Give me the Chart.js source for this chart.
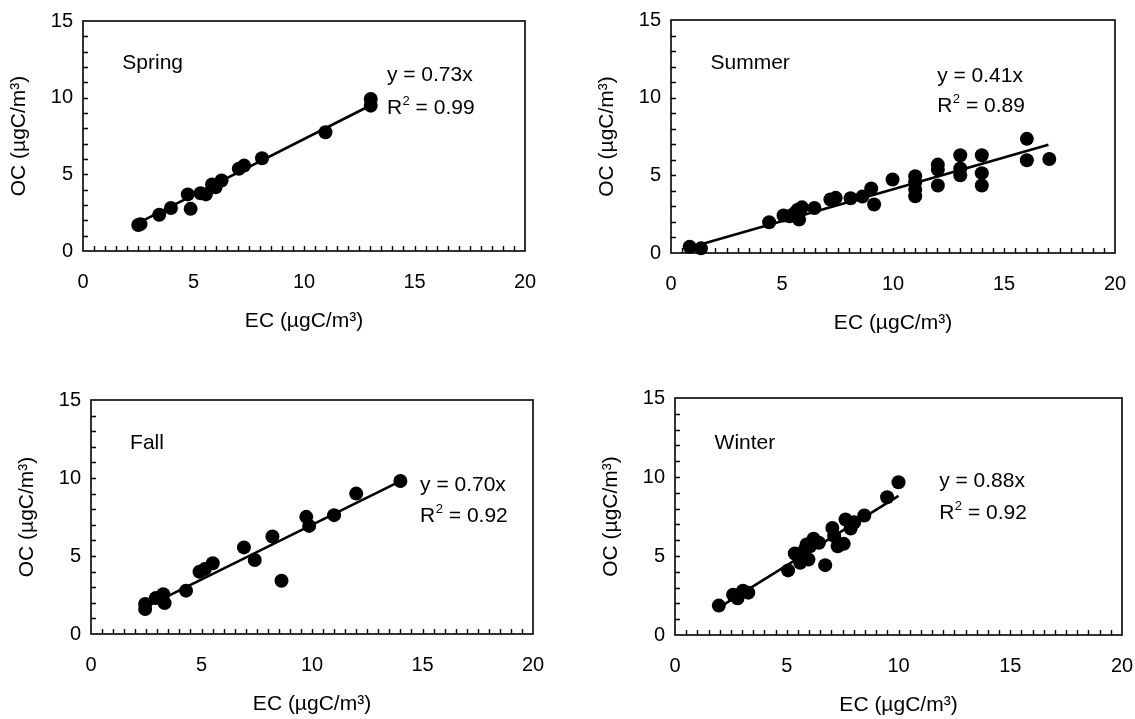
<!DOCTYPE html>
<html><head><meta charset="utf-8">
<script src="https://cdn.jsdelivr.net/npm/chart.js@4.4.1/dist/chart.umd.min.js"></script>
<style>
html,body{margin:0;padding:0;background:#fff;}
body{width:1135px;height:719px;position:relative;overflow:hidden;}
canvas{position:absolute;}
</style>
</head><body>
<canvas id="c0"></canvas><canvas id="c1"></canvas><canvas id="c2"></canvas><canvas id="c3"></canvas>
<script>
// ---------- data ----------
const seasonNames = ['Spring', 'Summer', 'Fall', 'Winter'];
const eqTexts = ['y = 0.73x', 'y = 0.41x', 'y = 0.70x', 'y = 0.88x'];
const r2Texts = ['0.99', '0.89', '0.92', '0.92'];
const xTickLabels = [0, 5, 10, 15, 20];
const yTickLabels = [0, 5, 10, 15];
const xTitle = 'EC (µgC/m³)';
const yTitle = 'OC (µgC/m³)';

const springEC = [2.5, 2.6, 3.45, 3.98, 4.74, 4.87, 5.32, 5.56, 5.84, 6.0, 6.27, 7.05, 7.29, 8.1, 10.97, 13.02, 13.02];
const springOC = [1.7, 1.75, 2.36, 2.8, 3.69, 2.75, 3.77, 3.69, 4.34, 4.16, 4.6, 5.36, 5.57, 6.05, 7.74, 9.91, 9.48];
const springFitEC = [2.6, 13.0];
const springFitOC = [1.9, 9.49];

const summerEC = [0.84, 1.35, 4.42, 5.07, 5.34, 5.5, 5.58, 5.71, 5.77, 5.9, 6.46, 7.18, 7.42, 8.09, 8.62, 9.02, 9.15, 9.98, 11.0, 11.0, 11.0, 11.0, 12.02, 12.02, 12.02, 13.03, 13.03, 13.03, 14.0, 14.0, 14.0, 16.03, 16.03, 17.04];
const summerOC = [0.4, 0.3, 1.98, 2.41, 2.36, 2.47, 2.58, 2.79, 2.15, 2.94, 2.9, 3.44, 3.55, 3.52, 3.63, 4.15, 3.12, 4.73, 4.94, 4.55, 4.08, 3.65, 5.69, 5.37, 4.35, 6.29, 5.44, 5.0, 6.29, 5.14, 4.35, 7.35, 5.97, 6.05];
const summerFitEC = [0.85, 17.0];
const summerFitOC = [0.35, 6.97];

const fallEC = [2.45, 2.45, 2.93, 3.27, 3.33, 4.3, 4.91, 5.15, 5.51, 6.92, 7.41, 8.21, 8.62, 9.74, 9.87, 11.0, 12.0, 14.0];
const fallOC = [1.6, 1.92, 2.3, 2.55, 1.98, 2.78, 3.99, 4.16, 4.54, 5.55, 4.74, 6.25, 3.41, 7.51, 6.93, 7.62, 9.0, 9.81];
const fallFitEC = [2.4, 14.0];
const fallFitOC = [1.68, 9.8];

const winterEC = [1.96, 2.6, 2.8, 3.04, 3.28, 5.06, 5.36, 5.6, 5.7, 5.81, 5.89, 5.97, 6.04, 6.2, 6.44, 6.72, 7.04, 7.12, 7.28, 7.55, 7.63, 7.86, 8.02, 8.47, 9.49, 10.0];
const winterOC = [1.86, 2.55, 2.32, 2.8, 2.68, 4.09, 5.16, 4.57, 4.89, 5.41, 5.73, 4.78, 5.62, 6.09, 5.84, 4.42, 6.78, 6.26, 5.62, 5.77, 7.31, 6.74, 7.14, 7.56, 8.72, 9.67];
const winterFitEC = [2.0, 10.0];
const winterFitOC = [1.76, 8.8];

// annotation anchors in data units [x, y]
const namePos = [[1.78, 12.25], [1.78, 12.23], [1.77, 12.2], [1.77, 12.17]];
const eqPos = [[13.75, 11.45], [11.99, 11.39], [14.89, 9.55], [11.82, 9.75]];
const r2Pos = [[13.75, 9.33], [11.99, 9.46], [14.89, 7.56], [11.82, 7.72]];

// ---------- layout ----------
const panels = [
  {l: 83, t: 21, w: 442, h: 230, ec: springEC, oc: springOC, fx: springFitEC, fy: springFitOC},
  {l: 671, t: 20, w: 444, h: 233, ec: summerEC, oc: summerOC, fx: summerFitEC, fy: summerFitOC},
  {l: 91, t: 400, w: 442, h: 234, ec: fallEC, oc: fallOC, fx: fallFitEC, fy: fallFitOC},
  {l: 675, t: 398, w: 447, h: 237, ec: winterEC, oc: winterOC, fx: winterFitEC, fy: winterFitOC}
];
const LEFT = 84, TOP = 24, RIGHT = 34, BOTTOM = 100;
const FONT = '"Liberation Sans", Arial, sans-serif';
const TEXT_PX = 21;

const pair = (xs, ys) => xs.map((v, i) => ({x: v, y: ys[i]}));

const decorPlugin = {
  id: 'decor',
  afterDatasetsDraw(chart, args, o) {
    const {ctx, chartArea: a, scales: {x, y}} = chart;
    ctx.save();
    ctx.strokeStyle = '#000';
    ctx.lineWidth = 1.4;
    ctx.beginPath();
    for (let v = 0.5; v < 20; v += 0.5) {
      const px = Math.round(x.getPixelForValue(v)) + 0.5;
      ctx.moveTo(px, a.bottom);
      ctx.lineTo(px, a.bottom - 5);
    }
    for (let v = 1; v < 15; v += 1) {
      const py = Math.round(y.getPixelForValue(v)) + 0.5;
      ctx.moveTo(a.left, py);
      ctx.lineTo(a.left + 5, py);
    }
    ctx.stroke();
    ctx.lineWidth = 1.6;
    ctx.strokeRect(a.left, a.top, a.right - a.left, a.bottom - a.top);

    ctx.fillStyle = '#000';
    ctx.textBaseline = 'middle';
    ctx.textAlign = 'left';
    const i = o.idx;
    ctx.font = TEXT_PX + 'px ' + FONT;
    ctx.fillText(seasonNames[i], x.getPixelForValue(namePos[i][0]), y.getPixelForValue(namePos[i][1]));
    ctx.fillText(eqTexts[i], x.getPixelForValue(eqPos[i][0]), y.getPixelForValue(eqPos[i][1]));
    let rx = x.getPixelForValue(r2Pos[i][0]);
    const ry = y.getPixelForValue(r2Pos[i][1]);
    ctx.fillText('R', rx, ry);
    rx += ctx.measureText('R').width + 0.5;
    ctx.font = '13px ' + FONT;
    ctx.fillText('2', rx, ry - 7);
    rx += ctx.measureText('2').width;
    ctx.font = TEXT_PX + 'px ' + FONT;
    ctx.fillText(' = ' + r2Texts[i], rx, ry);
    ctx.restore();
  }
};

panels.forEach((p, i) => {
  const cv = document.getElementById('c' + i);
  const W = LEFT + p.w + RIGHT, H = TOP + p.h + BOTTOM;
  cv.width = W; cv.height = H;
  cv.style.width = W + 'px'; cv.style.height = H + 'px';
  cv.style.left = (p.l - LEFT) + 'px'; cv.style.top = (p.t - TOP) + 'px';
  new Chart(cv, {
    type: 'scatter',
    data: {
      datasets: [
        {data: pair(p.ec, p.oc), backgroundColor: '#000', borderColor: '#000', borderWidth: 0, pointRadius: 7, pointHoverRadius: 7, clip: false},
        {data: pair(p.fx, p.fy), showLine: true, borderColor: '#000', borderWidth: 2.6, pointRadius: 0, fill: false, clip: false}
      ]
    },
    options: {
      responsive: false,
      animation: false,
      events: [],
      layout: {padding: {left: 0, top: TOP, right: RIGHT, bottom: 0}},
      plugins: {legend: {display: false}, tooltip: {enabled: false}, decor: {idx: i}},
      scales: {
        x: {
          type: 'linear', min: 0, max: 20,
          afterBuildTicks: s => { s.ticks = xTickLabels.map(v => ({value: v})); },
          afterFit: s => { s.height = BOTTOM; },
          grid: {display: false, drawTicks: false}, border: {display: false},
          ticks: {color: '#000', padding: 19, font: {family: FONT, size: 20}, maxRotation: 0},
          title: {display: true, text: xTitle, color: '#000', font: {family: FONT, size: 21}, padding: {top: 0, bottom: 17}}
        },
        y: {
          type: 'linear', min: 0, max: 15,
          afterBuildTicks: s => { s.ticks = yTickLabels.map(v => ({value: v})); },
          afterFit: s => { s.width = LEFT; },
          grid: {display: false, drawTicks: false}, border: {display: false},
          ticks: {color: '#000', padding: 10, font: {family: FONT, size: 20}},
          title: {display: true, text: yTitle, color: '#000', font: {family: FONT, size: 21}, padding: {top: 8, bottom: 0}}
        }
      }
    },
    plugins: [decorPlugin]
  });
});
</script>
</body></html>
